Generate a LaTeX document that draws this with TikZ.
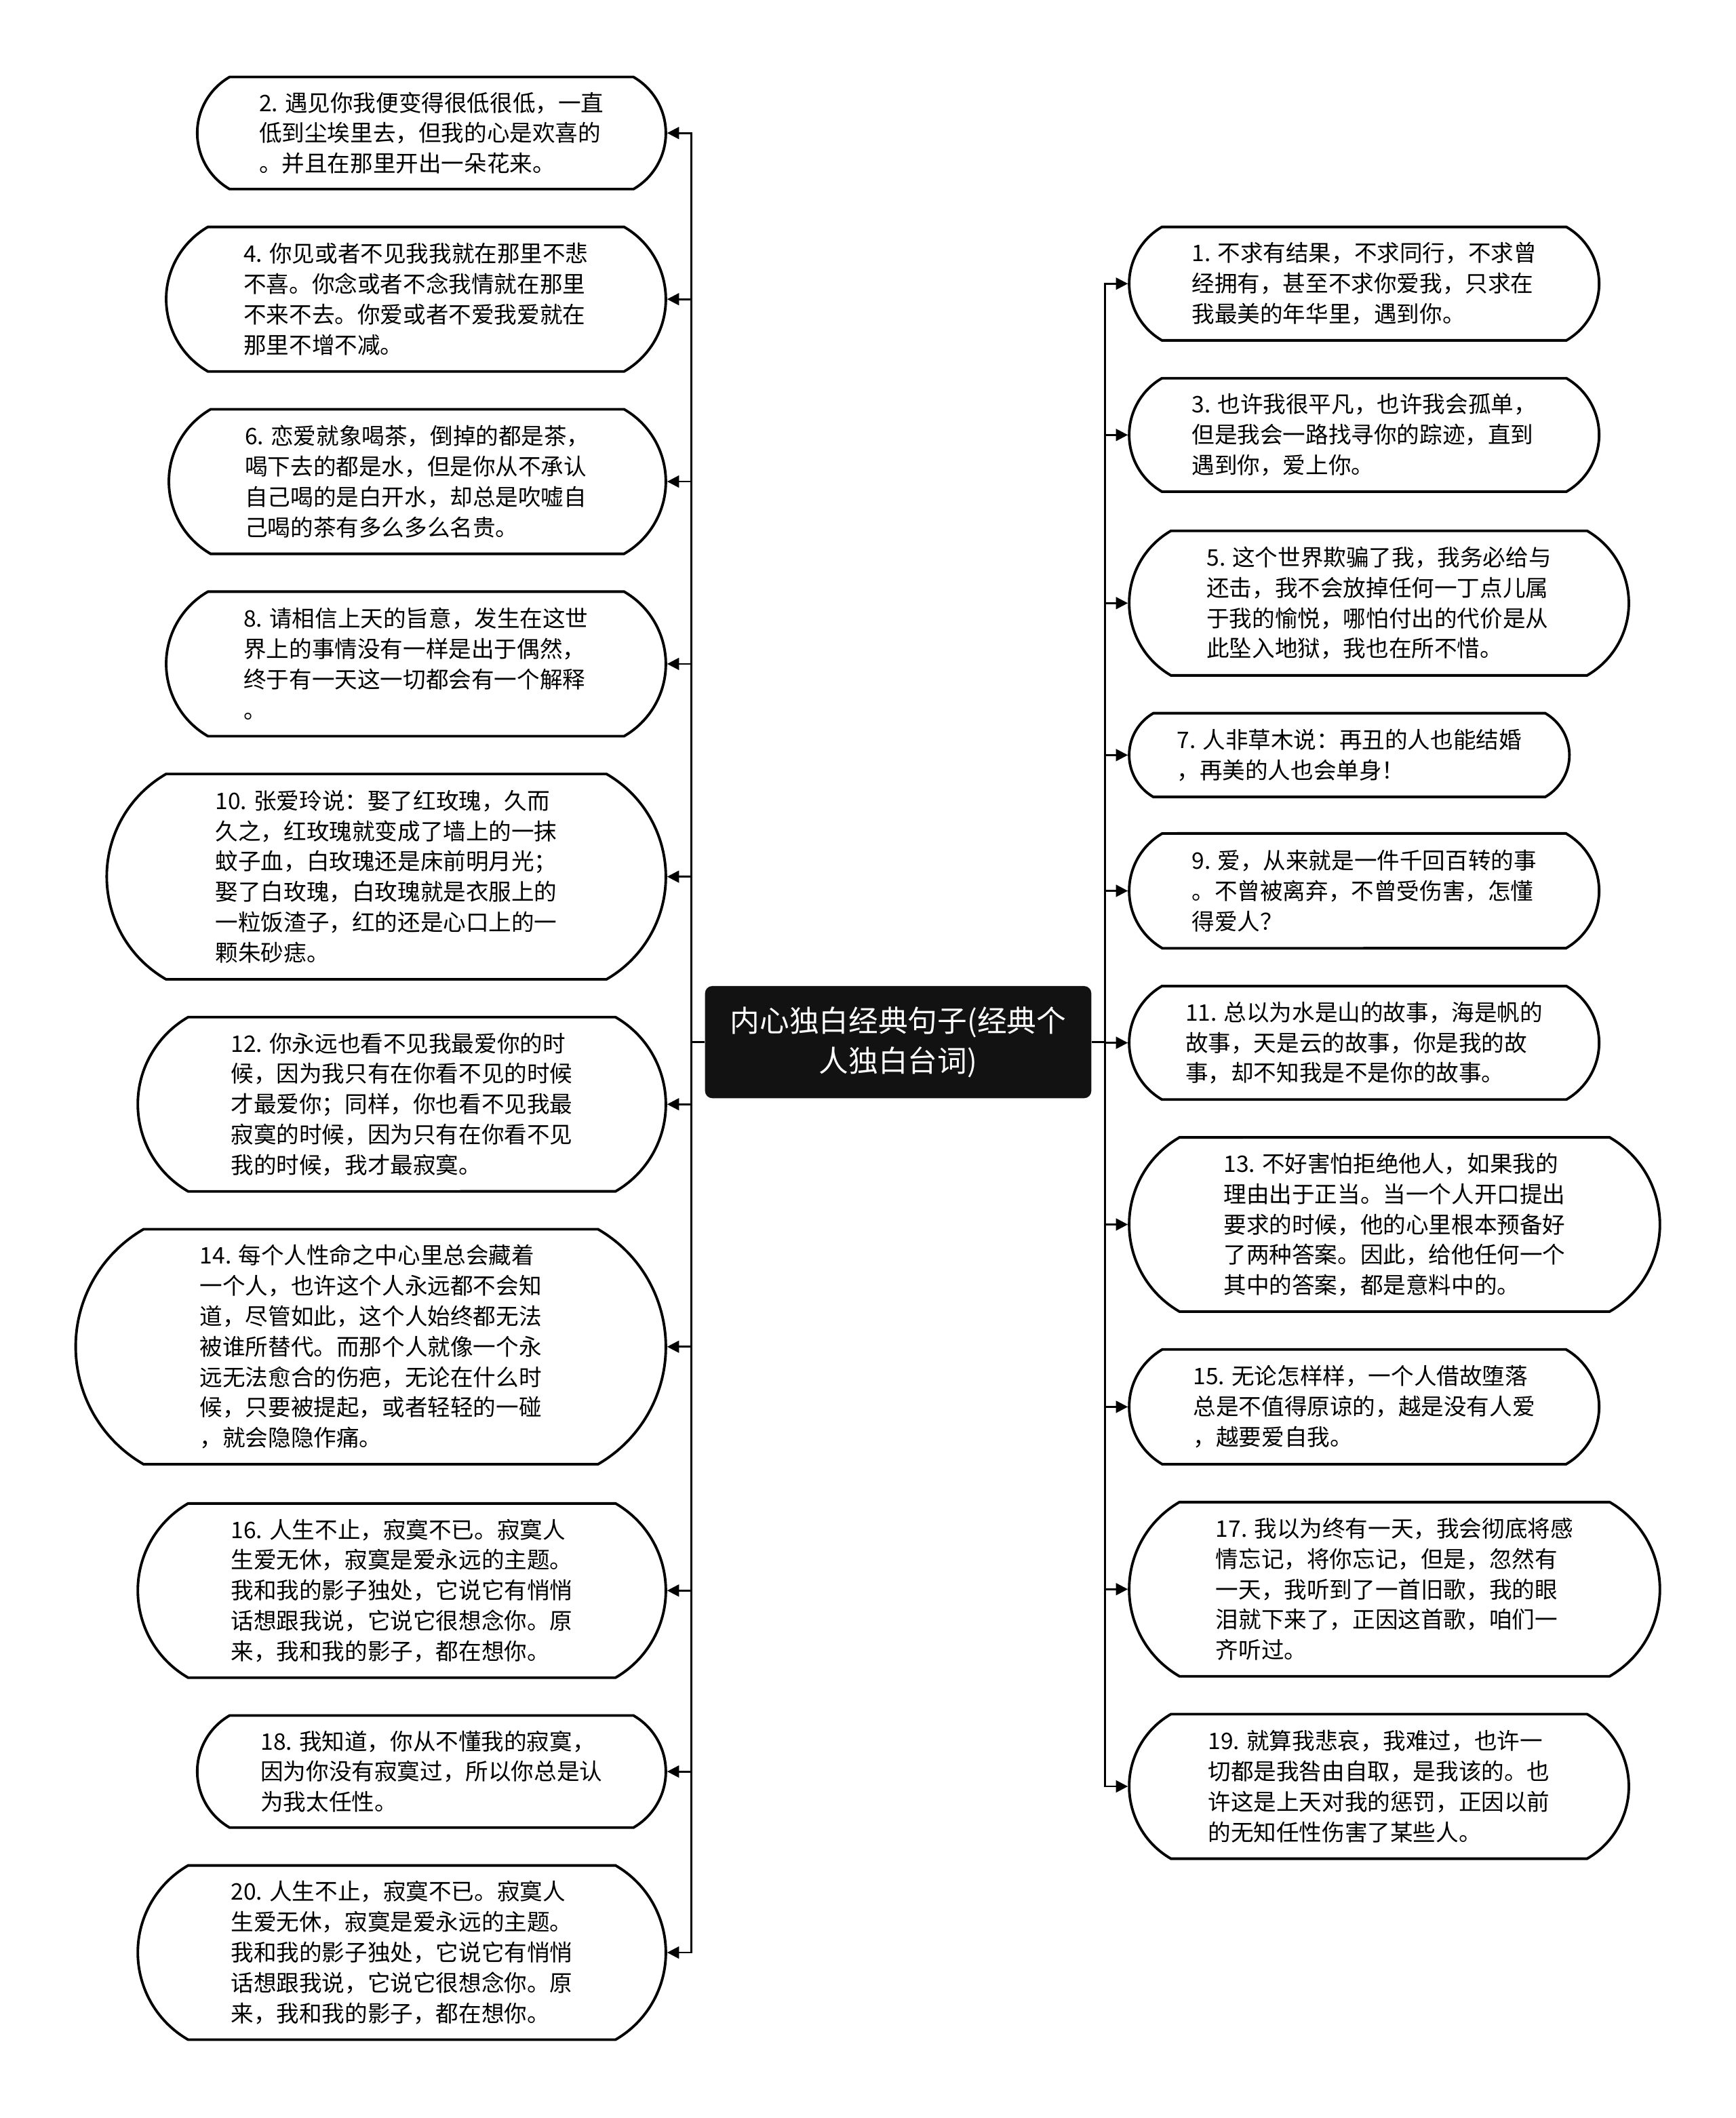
\documentclass[tikz,border=0pt]{standalone}
\usepackage{fontspec}
\setmainfont{Noto Sans CJK SC}
\usetikzlibrary{arrows.meta, shapes.misc}

\begin{document}
\begin{tikzpicture}[x=0.02cm, y=-0.02cm,
    leaf/.style={draw, line width=1.1pt, fill=white, rounded rectangle, rounded rectangle arc length=120, align=left, inner sep=0pt, font=\fontsize{9.6pt}{12.8pt}\selectfont},
    root/.style={fill=black!93, text=white, rounded corners=3pt, align=center, inner sep=0pt, minimum width=5.72cm, minimum height=1.66cm, font=\fontsize{12.5pt}{17pt}\selectfont},
    link/.style={line width=0.8pt, -{Triangle[length=5pt,width=5pt]}}]
  \useasboundingbox (0,0) rectangle (1285,1568);

  % centre
  \node[root] (root) at (665,771.5) {内心独白经典句子(经典个\\人独白台词)};

  % left side
  \node[leaf, minimum width=6.94cm, minimum height=1.66cm] (l2) at (319.5,98.5) {2. 遇见你我便变得很低很低，一直\\低到尘埃里去，但我的心是欢喜的\\。并且在那里开出一朵花来。};
  \node[leaf, minimum width=7.40cm, minimum height=2.14cm] (l4) at (308,221.5) {4. 你见或者不见我我就在那里不悲\\不喜。你念或者不念我情就在那里\\不来不去。你爱或者不爱我爱就在\\那里不增不减。};
  \node[leaf, minimum width=7.36cm, minimum height=2.14cm] (l6) at (309,356.5) {6. 恋爱就象喝茶，倒掉的都是茶，\\喝下去的都是水，但是你从不承认\\自己喝的是白开水，却总是吹嘘自\\己喝的茶有多么多么名贵。};
  \node[leaf, minimum width=7.40cm, minimum height=2.14cm] (l8) at (308,491.5) {8. 请相信上天的旨意，发生在这世\\界上的事情没有一样是出于偶然，\\终于有一天这一切都会有一个解释\\。};
  \node[leaf, minimum width=8.28cm, minimum height=3.04cm] (l10) at (286,649) {10. 张爱玲说：娶了红玫瑰，久而\\久之，红玫瑰就变成了墙上的一抹\\蚊子血，白玫瑰还是床前明月光；\\娶了白玫瑰，白玫瑰就是衣服上的\\一粒饭渣子，红的还是心口上的一\\颗朱砂痣。};
  \node[leaf, minimum width=7.82cm, minimum height=2.58cm] (l12) at (297.5,817.5) {12. 你永远也看不见我最爱你的时\\候，因为我只有在你看不见的时候\\才最爱你；同样，你也看不见我最\\寂寞的时候，因为只有在你看不见\\我的时候，我才最寂寞。};
  \node[leaf, minimum width=8.74cm, minimum height=3.48cm] (l14) at (274.5,997) {14. 每个人性命之中心里总会藏着\\一个人，也许这个人永远都不会知\\道，尽管如此，这个人始终都无法\\被谁所替代。而那个人就像一个永\\远无法愈合的伤疤，无论在什么时\\候，只要被提起，或者轻轻的一碰\\，就会隐隐作痛。};
  \node[leaf, minimum width=7.82cm, minimum height=2.58cm] (l16) at (297.5,1177.5) {16. 人生不止，寂寞不已。寂寞人\\生爱无休，寂寞是爱永远的主题。\\我和我的影子独处，它说它有悄悄\\话想跟我说，它说它很想念你。原\\来，我和我的影子，都在想你。};
  \node[leaf, minimum width=6.94cm, minimum height=1.66cm] (l18) at (319.5,1311.5) {18. 我知道，你从不懂我的寂寞，\\因为你没有寂寞过，所以你总是认\\为我太任性。};
  \node[leaf, minimum width=7.82cm, minimum height=2.58cm] (l20) at (297.5,1445.5) {20. 人生不止，寂寞不已。寂寞人\\生爱无休，寂寞是爱永远的主题。\\我和我的影子独处，它说它有悄悄\\话想跟我说，它说它很想念你。原\\来，我和我的影子，都在想你。};

  % right side
  \node[leaf, minimum width=6.96cm, minimum height=1.68cm] (r1) at (1010,210) {1. 不求有结果，不求同行，不求曾\\经拥有，甚至不求你爱我，只求在\\我最美的年华里，遇到你。};
  \node[leaf, minimum width=6.96cm, minimum height=1.68cm] (r3) at (1010,322) {3. 也许我很平凡，也许我会孤单，\\但是我会一路找寻你的踪迹，直到\\遇到你，爱上你。};
  \node[leaf, minimum width=7.40cm, minimum height=2.14cm] (r5) at (1021,446.5) {5. 这个世界欺骗了我，我务必给与\\还击，我不会放掉任何一丁点儿属\\于我的愉悦，哪怕付出的代价是从\\此坠入地狱，我也在所不惜。};
  \node[leaf, minimum width=6.52cm, minimum height=1.24cm] (r7) at (999,559) {7. 人非草木说：再丑的人也能结婚\\，再美的人也会单身！};
  \node[leaf, minimum width=6.96cm, minimum height=1.70cm] (r9) at (1010,659.5) {9. 爱，从来就是一件千回百转的事\\。不曾被离弃，不曾受伤害，怎懂\\得爱人？};
  \node[leaf, minimum width=6.96cm, minimum height=1.68cm] (r11) at (1010,772) {11. 总以为水是山的故事，海是帆的\\故事，天是云的故事，你是我的故\\事，却不知我是不是你的故事。};
  \node[leaf, minimum width=7.86cm, minimum height=2.58cm] (r13) at (1032.5,906.5) {13. 不好害怕拒绝他人，如果我的\\理由出于正当。当一个人开口提出\\要求的时候，他的心里根本预备好\\了两种答案。因此，给他任何一个\\其中的答案，都是意料中的。};
  \node[leaf, minimum width=6.96cm, minimum height=1.70cm] (r15) at (1010,1041.5) {15. 无论怎样样，一个人借故堕落\\总是不值得原谅的，越是没有人爱\\，越要爱自我。};
  \node[leaf, minimum width=7.86cm, minimum height=2.58cm] (r17) at (1032.5,1176.5) {17. 我以为终有一天，我会彻底将感\\情忘记，将你忘记，但是，忽然有\\一天，我听到了一首旧歌，我的眼\\泪就下来了，正因这首歌，咱们一\\齐听过。};
  \node[leaf, minimum width=7.40cm, minimum height=2.14cm] (r19) at (1021,1322.5) {19. 就算我悲哀，我难过，也许一\\切都是我咎由自取，是我该的。也\\许这是上天对我的惩罚，正因以前\\的无知任性伤害了某些人。};

  % connectors
  \foreach \n in {2,4,...,20}
    \draw[link] (root.west) -- ++(-10,0) |- (l\n.east);
  \foreach \n in {1,3,...,19}
    \draw[link] (root.east) -- ++(10,0) |- (r\n.west);
\end{tikzpicture}
\end{document}
